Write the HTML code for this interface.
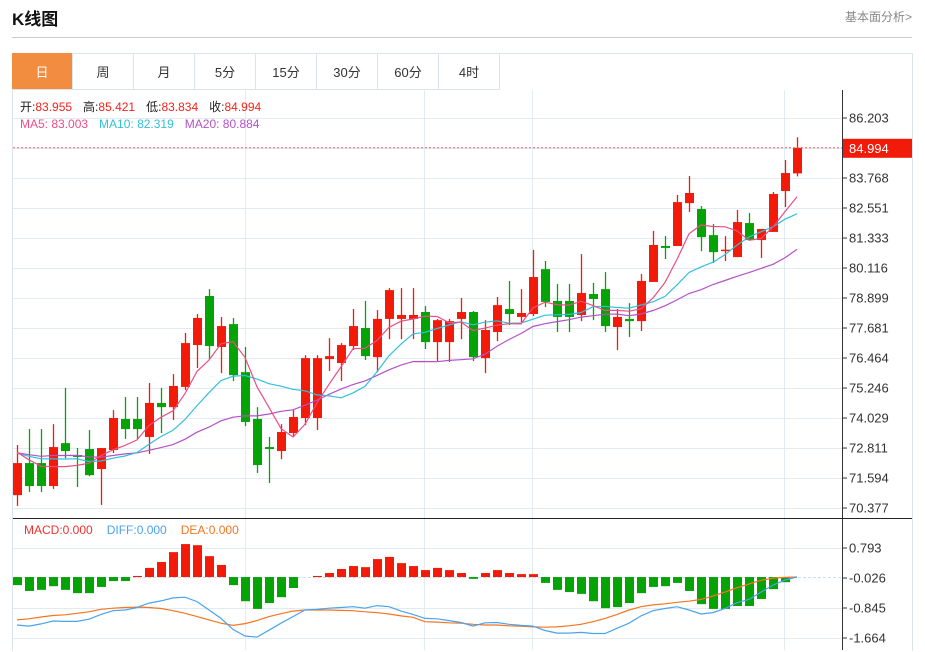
<!DOCTYPE html>
<html><head><meta charset="utf-8">
<style>
body{margin:0;background:#fff;width:925px;height:652px;overflow:hidden;font-family:"Liberation Sans","Noto Sans CJK SC",sans-serif;position:relative}
.title{position:absolute;left:12px;top:5px;font-size:17px;font-weight:bold;color:#111}
.more{position:absolute;right:13px;top:8px;font-size:12px;color:#888}
.hr{position:absolute;left:12px;top:37px;width:900px;height:1px;background:#ccc}
.box{position:absolute;left:12px;top:53px;width:899px;height:597px;border:1px solid #dde3ea;border-bottom:none}
.tabs{position:absolute;left:12px;top:53px;height:36px;display:flex}
.tab{width:60px;height:36px;border-right:1px solid #dde3ea;border-bottom:1px solid #dde3ea;font-size:13px;color:#333;display:flex;align-items:center;justify-content:center;box-sizing:content-box}
.tab.on{background:#f28c3e;color:#fff}
.info{position:absolute;left:20px;font-size:12px;white-space:nowrap}
.info span.g{margin-left:11px}
svg{position:absolute;left:0;top:0}
</style></head><body>
<div class="title">K线图</div>
<div class="more">基本面分析&gt;</div>
<div class="hr"></div>
<div class="box"></div>
<svg id="chart" width="925" height="652"></svg>
<div class="tabs">
<div class="tab on">日</div>
<div class="tab">周</div>
<div class="tab">月</div>
<div class="tab">5分</div>
<div class="tab">15分</div>
<div class="tab">30分</div>
<div class="tab">60分</div>
<div class="tab">4时</div>
</div>
<div class="info" style="top:98px"><span style="color:#222">开:</span><span style="color:#f5221a">83.955</span><span class="g" style="color:#222">高:</span><span style="color:#f5221a">85.421</span><span class="g" style="color:#222">低:</span><span style="color:#f5221a">83.834</span><span class="g" style="color:#222">收:</span><span style="color:#f5221a">84.994</span></div>
<div class="info" style="top:117px"><span style="color:#ee4d84">MA5: 83.003</span><span class="g" style="color:#30c0dd">MA10: 82.319</span><span class="g" style="color:#b352c8">MA20: 80.884</span></div>
<div class="info" style="top:523px;left:24px"><span style="color:#f03030">MACD:0.000</span><span class="g" style="color:#4aa3ee;margin-left:14px">DIFF:0.000</span><span class="g" style="color:#f57520;margin-left:14px">DEA:0.000</span></div>
<script>
const opens=[70.90,72.20,72.20,71.27,73.01,72.53,72.77,71.96,72.73,73.99,73.99,73.26,74.64,74.47,75.29,76.99,78.98,76.91,77.84,75.89,73.99,72.85,72.69,73.42,74.03,74.03,76.42,76.26,76.95,77.68,76.50,78.05,78.05,78.05,78.33,77.11,77.11,78.05,78.33,76.46,77.52,78.45,78.13,78.25,80.07,78.78,78.78,78.21,79.06,79.26,77.72,78.05,77.96,79.55,81.01,81.01,82.75,82.51,81.45,80.85,80.56,81.94,81.25,81.58,83.24,83.955];
const closes=[72.20,71.27,71.27,72.85,72.69,72.45,71.71,72.81,74.03,73.58,73.58,74.64,74.47,75.33,77.07,78.09,76.95,77.76,75.77,73.87,72.12,72.77,73.46,74.07,76.46,76.46,76.54,76.99,77.76,76.54,78.05,79.22,78.21,78.21,77.11,78.00,77.96,78.33,76.50,77.60,78.61,78.25,78.29,79.75,78.74,78.13,78.13,79.10,78.86,77.76,78.13,77.96,79.59,81.05,80.93,82.79,83.16,81.37,80.76,80.86,81.98,81.25,81.70,83.12,83.97,84.994];
const highs=[72.93,73.58,73.58,73.78,75.25,72.81,73.54,72.81,74.35,74.88,74.88,75.45,75.25,75.81,77.48,78.25,79.26,78.13,78.09,76.91,74.47,73.26,73.78,74.35,76.58,76.58,77.27,77.07,78.45,78.78,78.41,79.30,79.30,79.30,78.57,78.05,78.05,78.90,78.37,78.00,78.94,79.59,79.26,80.85,80.40,79.47,79.47,80.68,79.51,79.95,78.45,78.69,79.87,81.62,81.41,83.08,83.85,82.63,81.90,81.41,82.47,82.35,81.70,83.20,84.50,85.421];
const lows=[70.46,71.03,71.03,71.15,72.40,71.23,71.67,70.50,72.61,73.18,73.18,72.57,73.42,73.95,75.16,76.06,76.42,75.85,75.53,73.70,71.80,71.39,72.36,73.26,73.74,73.54,75.94,75.53,76.79,76.38,75.89,77.23,77.23,77.23,76.83,76.34,76.30,77.23,76.34,75.85,77.15,77.80,77.92,78.17,78.53,77.52,77.52,77.96,78.00,77.52,76.79,77.32,77.56,79.55,80.48,81.01,82.39,80.80,80.32,80.40,80.56,81.25,80.52,81.58,82.59,83.834];
const prevCloses=[72.9,72.5,72.2,72.7,72.4,72.9,73.1,72.6,72.3,72.8,72.5,72.3,72.9,72.7,72.4,72.8,72.6,72.9,72.7];
const priceTicks=["86.203","83.768","82.551","81.333","80.116","78.899","77.681","76.464","75.246","74.029","72.811","71.594","70.377"];
const macdHist=[-0.22,-0.38,-0.35,-0.25,-0.35,-0.44,-0.44,-0.27,-0.11,-0.11,0.03,0.25,0.41,0.68,0.90,0.87,0.57,0.33,-0.22,-0.66,-0.87,-0.71,-0.55,-0.30,0.0,0.03,0.11,0.22,0.30,0.27,0.49,0.55,0.38,0.30,0.19,0.25,0.19,0.11,-0.05,0.11,0.19,0.11,0.08,0.08,-0.16,-0.35,-0.41,-0.46,-0.66,-0.85,-0.82,-0.71,-0.44,-0.27,-0.25,-0.16,-0.38,-0.74,-0.87,-0.87,-0.79,-0.79,-0.60,-0.33,-0.14,0.0];
const diffVals=[-1.31,-1.34,-1.28,-1.20,-1.21,-1.21,-1.15,-1.02,-0.92,-0.90,-0.83,-0.71,-0.65,-0.57,-0.55,-0.67,-0.90,-1.13,-1.43,-1.61,-1.64,-1.45,-1.26,-1.08,-0.90,-0.88,-0.85,-0.83,-0.81,-0.85,-0.78,-0.81,-0.93,-1.02,-1.13,-1.14,-1.19,-1.24,-1.34,-1.25,-1.24,-1.29,-1.32,-1.34,-1.46,-1.53,-1.53,-1.51,-1.54,-1.54,-1.40,-1.26,-1.06,-0.92,-0.86,-0.81,-0.90,-1.01,-0.97,-0.86,-0.70,-0.61,-0.41,-0.22,-0.08,0.00];
const deaVals=[-1.17,-1.14,-1.09,-1.05,-1.03,-0.99,-0.95,-0.88,-0.85,-0.83,-0.82,-0.83,-0.86,-0.92,-0.99,-1.08,-1.17,-1.26,-1.32,-1.27,-1.19,-1.08,-1.00,-0.93,-0.90,-0.90,-0.90,-0.91,-0.92,-0.95,-0.97,-1.01,-1.06,-1.10,-1.22,-1.23,-1.25,-1.26,-1.29,-1.31,-1.31,-1.33,-1.34,-1.36,-1.37,-1.36,-1.33,-1.29,-1.22,-1.13,-1.02,-0.90,-0.81,-0.76,-0.73,-0.69,-0.66,-0.61,-0.52,-0.41,-0.29,-0.19,-0.09,-0.03,-0.01,0.00];
const macdTicks=["0.793","-0.026","-0.845","-1.664"];

const NS="http://www.w3.org/2000/svg";
const svg=document.getElementById('chart');
function mk(tag,attrs,parent){const e=document.createElementNS(NS,tag);for(const k in attrs)e.setAttribute(k,attrs[k]);(parent||svg).appendChild(e);return e;}
const xS=i=>17+12*i;
const yP=v=>118+(86.203-v)/1.21733*30;
const yM=v=>578-(v+0.026)/0.819*30;
const RED="#f21a08",GREEN="#05a305";

const grid=mk('g',{});


for(let k=0;k<14;k++){mk('line',{x1:13,x2:842,y1:118+30*k+0.5,y2:118+30*k+0.5,stroke:'#e2ebf2'},grid);}
[245,424,532,784].forEach(x=>{mk('line',{x1:x+0.5,x2:x+0.5,y1:90,y2:650,stroke:'#e2ebf2'},grid);});
[548,608,638].forEach(y=>{mk('line',{x1:13,x2:842,y1:y+0.5,y2:y+0.5,stroke:'#e2ebf2'},grid);});
mk('line',{x1:13,x2:842,y1:577.5,y2:577.5,stroke:'#c8e0f0','stroke-dasharray':'3,2'},grid);

const ax=mk('g',{});


mk('line',{x1:842.5,x2:842.5,y1:90,y2:650,stroke:'#333'},ax);
mk('line',{x1:13,x2:912,y1:518.5,y2:518.5,stroke:'#222'},ax);
priceTicks.forEach(t=>{const y=yP(parseFloat(t));
 mk('line',{x1:842,x2:847,y1:y,y2:y,stroke:'#333'},ax);
 const tx=mk('text',{x:849,y:y+4.5,'font-size':13,fill:'#333','font-family':'Liberation Sans, sans-serif'},ax);tx.textContent=t;
 
 });
macdTicks.forEach(t=>{const y=yM(parseFloat(t));
 mk('line',{x1:842,x2:847,y1:y,y2:y,stroke:'#333'},ax);
 const tx=mk('text',{x:849,y:y+4.5,'font-size':13,fill:'#333','font-family':'Liberation Sans, sans-serif'},ax);tx.textContent=t;
 
 });

const all=prevCloses.concat(closes);
function ma(n){return closes.map((c,i)=>{const j=i+prevCloses.length;let s=0;for(let k=j-n+1;k<=j;k++)s+=all[k];return s/n;});}
function poly(vals,ys,color,name){const p=mk('polyline',{points:vals.map((v,i)=>xS(i)+','+ys(v).toFixed(1)).join(' '),fill:'none',stroke:color,'stroke-width':1.2});
 
 }

const cg=mk('g',{});


closes.forEach((c,i)=>{const o=opens[i];const up=c>=o;const col=up?RED:GREEN;const x=xS(i);
 const g=mk('g',{},cg);
 
 
 mk('line',{x1:x+0.5,x2:x+0.5,y1:yP(highs[i]),y2:yP(lows[i]),stroke:col,'stroke-width':1.3},g);
 const t=yP(Math.max(o,c)),b=yP(Math.min(o,c));
 mk('rect',{x:x-4,y:t,width:9,height:Math.max(1.5,b-t),fill:col},g);});
poly(ma(20),yP,'#b352c8','ma20-line');
poly(ma(10),yP,'#30c0dd','ma10-line');
poly(ma(5),yP,'#ee4d84','ma5-line');

const last=closes[closes.length-1];
mk('line',{x1:13,x2:842,y1:yP(last),y2:yP(last),stroke:'#f06060','stroke-dasharray':'2,2'});
const lb=mk('rect',{x:843,y:yP(last)-9,width:69,height:19,fill:'#f21a08'});


const lt=mk('text',{x:849,y:yP(last)+5,'font-size':13,fill:'#fff','font-family':'Liberation Sans, sans-serif'});lt.textContent=last.toFixed(3);



const hg=mk('g',{});


macdHist.forEach((v,i)=>{const y0=yM(0),y1=yM(v);const r=mk('rect',{x:xS(i)-4,y:Math.min(y0,y1),width:9,height:Math.abs(y1-y0),fill:v>=0?RED:GREEN},hg);
 
 });
poly(deaVals,yM,'#f57520','dea-line');
poly(diffVals,yM,'#4aa3ee','diff-line');
</script>
</body></html>
